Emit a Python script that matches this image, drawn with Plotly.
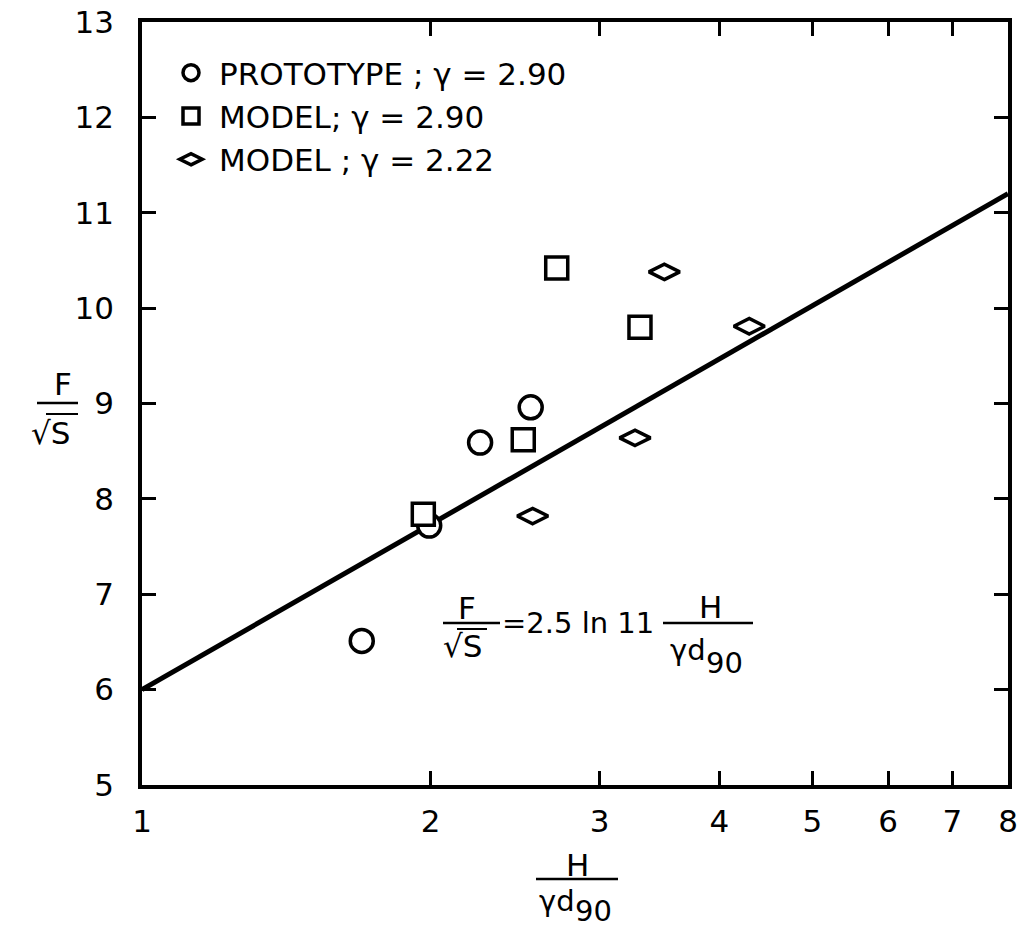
import plotly.graph_objects as go
import math

# ---- data ----
proto_x = [1.695, 1.993, 2.252, 2.543]
proto_y = [6.51, 7.72, 8.59, 8.96]

model290_x = [1.965, 2.498, 2.707, 3.306]
model290_y = [7.84, 8.62, 10.42, 9.80]

model222_x = [2.555, 3.267, 3.505, 4.298]
model222_y = [7.82, 8.64, 10.38, 9.81]

fit_x = [1, 8]
fit_y = [6.0, 11.2]

x_ticks = [1, 2, 3, 4, 5, 6, 7, 8]
x_ticktext = ["1", "2", "3", "4", "5", "6", "7", "8"]
y_ticks = [5, 6, 7, 8, 9, 10, 11, 12, 13]

legend_names = ["PROTOTYPE ; γ = 2.90",
                "MODEL; γ = 2.90",
                "MODEL ; γ = 2.22"]

# ---- layout geometry (pixels) ----
W, H = 1026, 932
OFF = 8  # page body margin
L, R, T, B = 134, 26, 14, 155
PW, PH = W - L - R, H - T - B


def px(x):
    return (x - OFF - L) / PW


def py(y):
    return (H - B - (y - OFF)) / PH


FONT = "DejaVu Sans"
FS = 31

fig = go.Figure()

fig.add_trace(go.Scatter(x=fit_x, y=fit_y, mode="lines",
                         line=dict(color="black", width=5), showlegend=False,
                         hoverinfo="skip"))

common = dict(mode="markers")
fig.add_trace(go.Scatter(x=proto_x, y=proto_y, name=legend_names[0], legendgroup="a",
                         marker=dict(symbol="circle", size=23, color="white",
                                     line=dict(color="black", width=3.5)), **common))
fig.add_trace(go.Scatter(x=model290_x, y=model290_y, name=legend_names[1], legendgroup="b",
                         marker=dict(symbol="square", size=22, color="white",
                                     line=dict(color="black", width=3.5)), **common))
fig.add_trace(go.Scatter(x=model222_x, y=model222_y, name=legend_names[2], legendgroup="c",
                         marker=dict(symbol="diamond-wide", size=22, color="white",
                                     line=dict(color="black", width=3.5)), **common))

axis_common = dict(showgrid=False, zeroline=False, showline=True, linecolor="black",
                   linewidth=3.5, mirror="ticks", ticks="inside", ticklen=14,
                   tickwidth=2.5, tickcolor="black", automargin=False,
                   ticklabeloverflow="allow",
                   tickfont=dict(family=FONT, size=FS, color="black"))

fig.update_xaxes(type="log", range=[0, math.log10(8)], tickmode="array",
                 tickvals=x_ticks, ticktext=x_ticktext, ticklabelstandoff=6,
                 **axis_common)
fig.update_yaxes(range=[5, 13], tickmode="array", tickvals=y_ticks,
                 ticklabelstandoff=18, **axis_common)

ann = []
shapes = []


def text(x, y, s, xanchor="center", size=FS):
    ann.append(dict(x=px(x), y=py(y), xref="paper", yref="paper", text=s,
                    showarrow=False, xanchor=xanchor, yanchor="middle",
                    font=dict(family=FONT, size=size, color="black")))


def hline(x0, x1, y, w=2.5):
    shapes.append(dict(type="line", xref="paper", yref="paper",
                       x0=px(x0), x1=px(x1), y0=py(y), y1=py(y),
                       line=dict(color="black", width=w)))


# y-axis title  F / sqrt(S)
text(63, 384, "F")
hline(37, 78, 403)
text(50, 433, "√S")
hline(46, 78, 414, 2)

# x-axis title  H / (gamma d90)
text(577, 865, "H")
hline(536, 618, 879)
text(557, 901, "γd", size=29)
text(593, 911, "90", size=29)

# equation
text(467, 608, "F")
hline(443, 500, 623)
text(462, 646, "√S")
hline(457, 487, 629, 2)
text(500, 623, "=2.5 ln 11", xanchor="left", size=29)
text(710, 607, "H")
hline(663, 753, 623)
text(688, 650, "γd", size=29)
text(724, 663, "90", size=29)

fig.update_layout(
    width=W, height=H,
    margin=dict(l=L, r=R, t=T, b=B),
    paper_bgcolor="white", plot_bgcolor="white",
    annotations=ann, shapes=shapes,
    showlegend=True,
    legend=dict(x=px(163), y=py(46), xanchor="left", yanchor="top",
                bgcolor="rgba(0,0,0,0)", tracegroupgap=0, itemwidth=46,
                font=dict(family=FONT, size=31, color="black"),
                itemsizing="trace"),
)

fig.write_html("out.html")
